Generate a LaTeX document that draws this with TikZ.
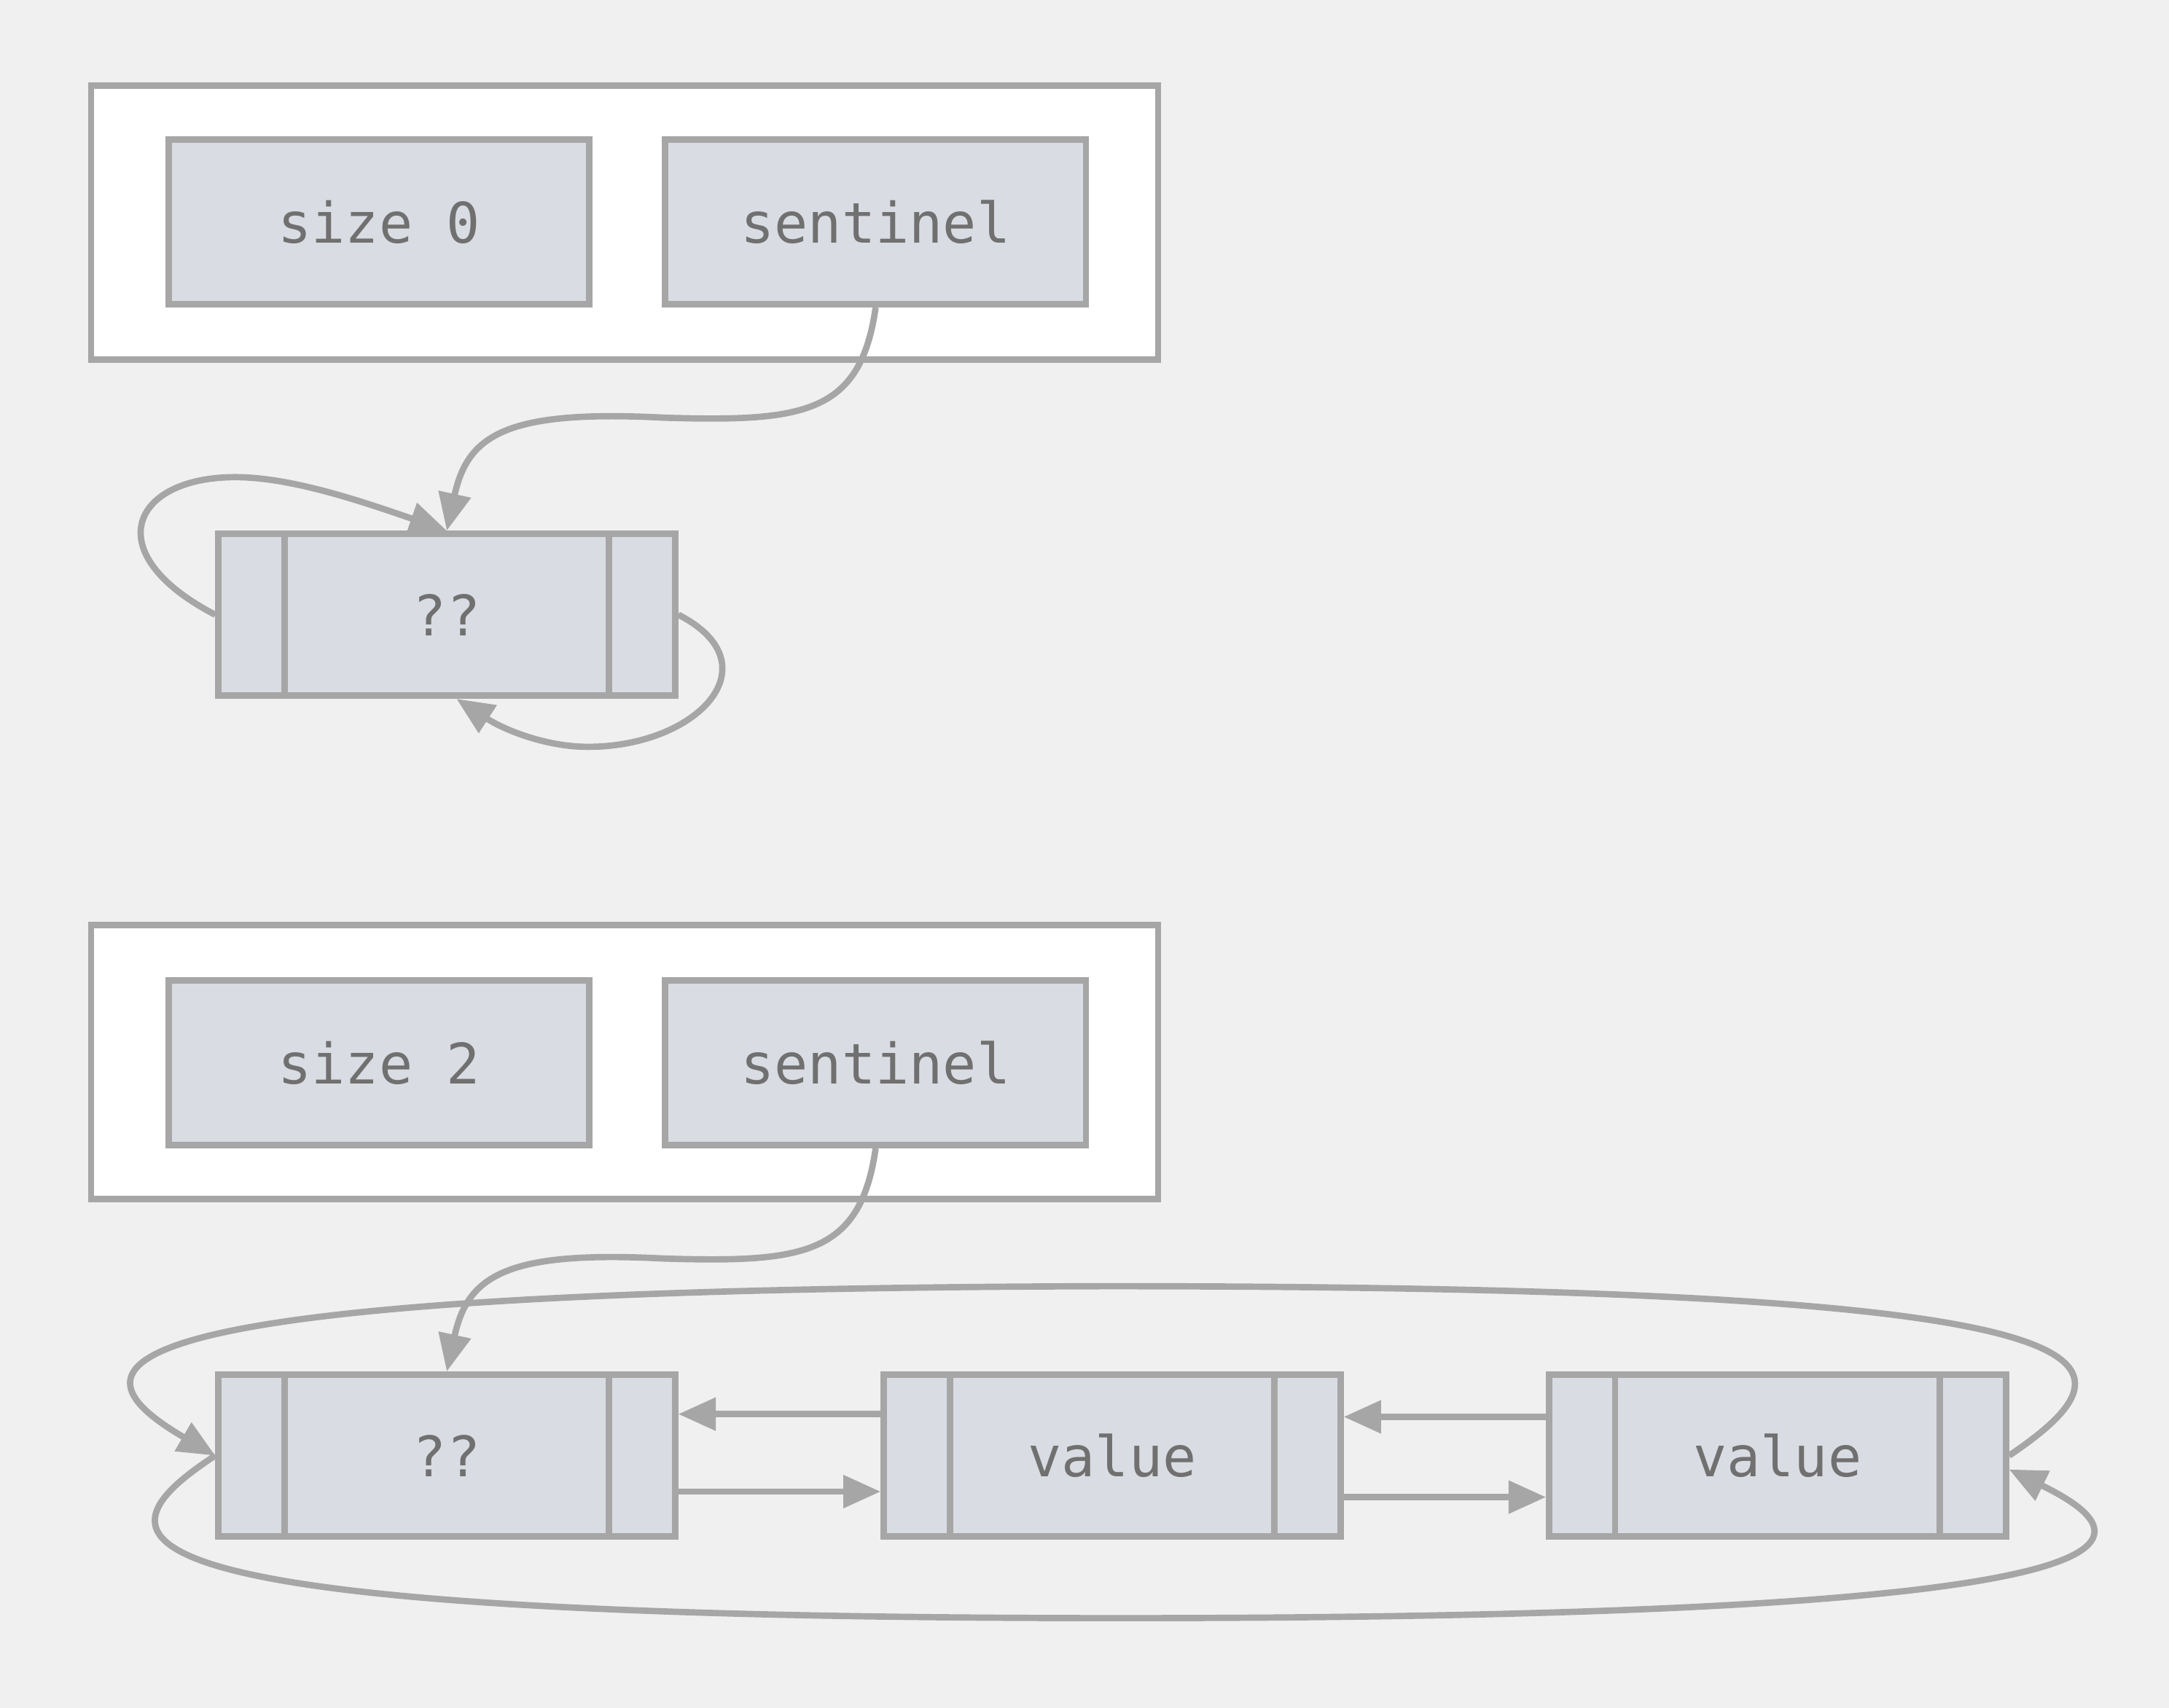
\documentclass[tikz,border=0pt]{standalone}
\usepackage{fontspec}
\setmonofont{DejaVu Sans Mono}
\usetikzlibrary{arrows.meta}
\definecolor{bg}{HTML}{F0F0F0}
\definecolor{edge}{HTML}{A6A6A6}
\definecolor{cell}{HTML}{D9DCE2}
\definecolor{ink}{HTML}{707070}
\begin{document}
\begin{tikzpicture}[x=0.01cm,y=-0.01cm,color=edge,every path/.append style={line width=1.3pt},
  holder/.style={draw,fill=white,minimum width=7.71cm,minimum height=1.98cm,inner sep=0pt},
  field/.style={draw,fill=cell,minimum width=3.04cm,minimum height=1.19cm,inner sep=0pt,
    text=ink,font=\ttfamily\fontsize{11.5}{13}\selectfont},
  link/.style={field,minimum width=3.30cm,minimum height=1.17cm},
  ptr/.style={-{Triangle[length=0.27cm,width=0.23cm]}}]
\fill[bg] (0,0) rectangle (1568,1235);
\useasboundingbox (0,0) rectangle (1568,1235);
% empty list
\node[holder] (h0) at (451.5,161) {};
\node[field] (z0) at (274,160.5) {size 0};
\node[field] (s0) at (633,160.5) {sentinel};
\node[link] (n0) at (323,444.5) {??};
% list with two values
\node[holder] (h1) at (451.5,768) {};
\node[field] (z1) at (274,768.5) {size 2};
\node[field] (s1) at (633,768.5) {sentinel};
\node[link] (m0) at (323,1052.5) {??};
\node[link] (m1) at (804,1052.5) {value};
\node[link] (m2) at (1285,1052.5) {value};
\foreach \n in {n0,m0,m1,m2} {
	\draw ([xshift=0.5cm]\n.north west) -- ([xshift=0.5cm]\n.south west);
	\draw ([xshift=-0.5cm]\n.north east) -- ([xshift=-0.5cm]\n.south east);
}
% pointers
\draw[ptr] (s0.south) .. controls (622,300) and (580,305) .. (480,302) .. controls (365,296) and (338,315) .. (n0.north);
\draw[ptr] (n0.west) .. controls (70,400) and (95,345) .. (170,345) .. controls (210,345) and (260,362) .. (n0.north);
\draw[ptr] (n0.east) .. controls (560,480) and (505,540) .. (425,540) .. controls (395,540) and (365,528) .. ([xshift=0.07cm]n0.south);
\draw[ptr] (s1.south) .. controls (622,908) and (580,913) .. (480,910) .. controls (365,904) and (338,923) .. (m0.north);
\draw[ptr] ([yshift=0.3cm]m1.west) -- ([yshift=0.3cm]m0.east);
\draw[ptr] ([yshift=-0.26cm]m0.east) -- ([yshift=-0.26cm]m1.west);
\draw[ptr] ([yshift=0.28cm]m2.west) -- ([yshift=0.28cm]m1.east);
\draw[ptr] ([yshift=-0.3cm]m1.east) -- ([yshift=-0.3cm]m2.west);
\draw[ptr] (m2.east) .. controls (1560,980) and (1540,930) .. (800,930) .. controls (60,932) and (40,985) .. (m0.west);
\draw[ptr] (m0.west) .. controls (60,1115) and (60,1170) .. (810,1170) .. controls (1570,1170) and (1560,1115) .. ([yshift=-0.1cm]m2.east);
\end{tikzpicture}
\end{document}
